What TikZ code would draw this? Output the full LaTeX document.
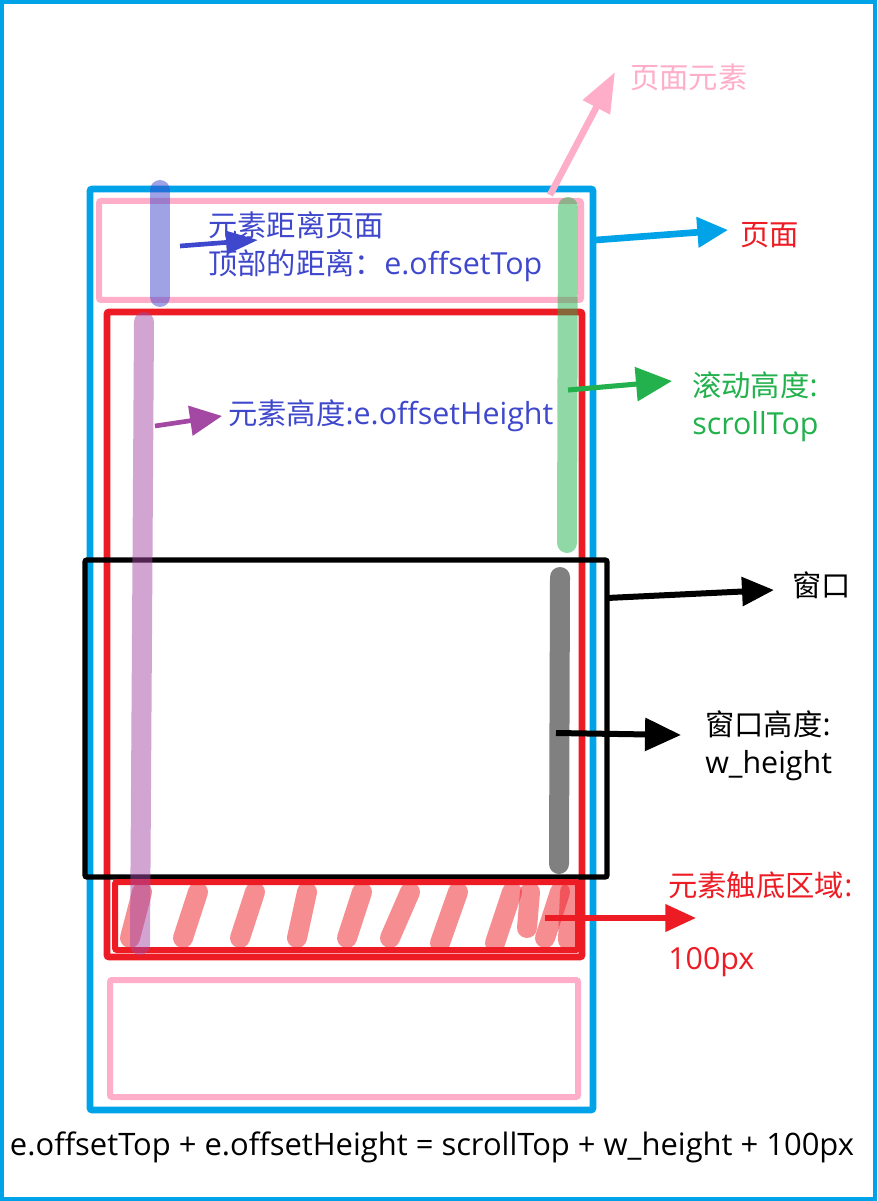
\documentclass[tikz,border=0pt]{standalone}
\usepackage{fontspec}
\setmainfont{Open Sans}
\newfontfamily\cjk{Noto Sans CJK SC}
\usetikzlibrary{arrows.meta}
\definecolor{pageblue}{HTML}{00A2E8}
\definecolor{elpink}{HTML}{FFAEC9}
\definecolor{elred}{HTML}{ED1C24}
\definecolor{indigo}{HTML}{3F48CC}
\definecolor{violet}{HTML}{A349A4}
\definecolor{scrollgreen}{HTML}{22B14C}
\newcommand\zh[1]{{\cjk\fontsize{22}{28.5}\selectfont #1}}
\begin{document}
\begin{tikzpicture}[x=0.75pt,y=-0.75pt,
  lbl/.style={anchor=west, inner sep=0pt, align=left, font=\fontsize{22.8}{28.5}\selectfont},
  box/.style={rounded corners=1.5pt, line width=#1},
  bar/.style={line width=15pt, line cap=round, opacity=0.5},
  hatch/.style={line width=15pt, line cap=round, draw=elred, opacity=0.5},
  arr/.style={line width=#1, -{Triangle[length=24pt,width=21pt]}}]
\useasboundingbox (0,0) rectangle (877,1201);
% outer frame
\draw[pageblue, line width=3pt] (2,2) rectangle (875,1199);

% page, element, window and bottom-zone boxes
\draw[box=5pt, pageblue] (90,189) rectangle (593,1110);
\draw[box=4.5pt, elpink] (99,201) rectangle (581,300);
\draw[box=4.5pt, elpink] (110,980) rectangle (578,1097);
\draw[box=5pt, elred] (107,312) rectangle (582,957);
\draw[box=4pt, black] (85,560) rectangle (607,877);
\draw[box=4.5pt, elred] (115,882) rectangle (578,950);

% hatching of the bottom zone
\foreach \a/\b/\c/\d in {130/938/142/892, 183/938/198/892, 240/938/255/892,
  297/938/307/892, 347/938/362/892, 390/938/410/892, 440/943/458/892,
  495/943/512/892, 527/928/530/892, 545/938/560/892, 568/940/570/892}
  \draw[hatch] (\a,\b) -- (\c,\d);

% measuring bars
\draw[bar, indigo] (160,190) -- (160,297);
\draw[bar, violet] (144,322) -- (140,945);
\draw[bar, scrollgreen] (568,207) -- (567,543);
\draw[bar, black!50, opacity=1] (560,577) -- (559,864);

% labels
\node[lbl, text=elpink] (lblElem) at (630,77) {\zh{页面元素}};
\node[lbl, text=elred] (lblPage) at (740,235) {\zh{页面}};
\node[lbl, text=indigo] (lblTop) at (208,247) {\zh{元素距离页面}\\\zh{顶部的距离：}e.offsetTop};
\node[lbl, text=indigo] (lblHeight) at (228,416) {\zh{元素高度}:e.offsetHeight};
\node[lbl, text=scrollgreen] (lblScroll) at (692,407) {\zh{滚动高度}:\\scrollTop};
\node[lbl] (lblWin) at (792,585) {\zh{窗口}};
\node[lbl] (lblWinH) at (705,746) {\zh{窗口高度}:\\w\_height};
\node[lbl, text=elred] (lblZone) at (668,885) {\zh{元素触底区域}:};
\node[lbl, text=elred] (lblPx) at (668,962) {100px};
\node[inner sep=0pt, font=\fontsize{23.2}{26}\selectfont] (formula) at (432,1147)
  {e.offsetTop + e.offsetHeight = scrollTop + w\_height + 100px};

% arrow anchor points
\coordinate (pElemA) at (550,195);  \coordinate (pElemB) at (615,72);
\coordinate (pPageA) at (596,240);  \coordinate (pPageB) at (728,230);
\coordinate (pTopA) at (180,246);   \coordinate (pTopB) at (258,240);
\coordinate (pHA) at (155,426);     \coordinate (pHB) at (222,416);
\coordinate (pSA) at (568,390);     \coordinate (pSB) at (672,381);
\coordinate (pWA) at (607,598);     \coordinate (pWB) at (774,590);
\coordinate (pWHA) at (556,733);    \coordinate (pWHB) at (681,735);
\coordinate (pZA) at (545,918);     \coordinate (pZB) at (696,918);

% arrows
\draw[arr=5pt, elpink, -{Triangle[length=30pt,width=22pt]}] (pElemA) -- (pElemB);
\draw[arr=5pt, pageblue, -{Triangle[length=23pt,width=22pt]}] (pPageA) -- (pPageB);
\draw[arr=3.5pt, indigo, -{Triangle[length=24pt,width=17pt]}] (pTopA) -- (pTopB);
\draw[arr=3.5pt, violet, -{Triangle[length=24pt,width=22pt]}] (pHA) -- (pHB);
\draw[arr=3.8pt, scrollgreen, -{Triangle[length=27pt,width=25pt]}] (pSA) -- (pSB);
\draw[arr=4.5pt, black] (pWA) -- (pWB);
\draw[arr=4.5pt, black, -{Triangle[length=27pt,width=24pt]}] (pWHA) -- (pWHB);
\draw[arr=3.8pt, elred, -{Triangle[length=23pt,width=20pt]}] (pZA) -- (pZB);
\end{tikzpicture}
\end{document}
